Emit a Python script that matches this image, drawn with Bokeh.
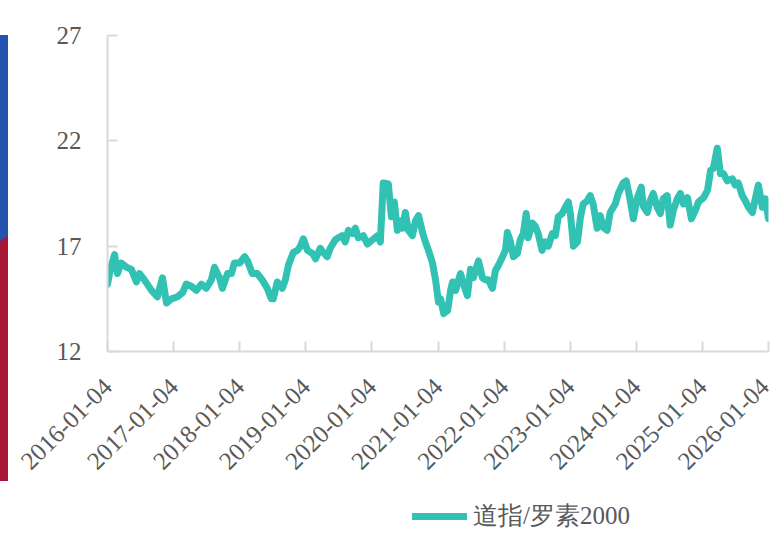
import pandas as pd
from bokeh.plotting import figure
from bokeh.layouts import column
from bokeh.models import (FixedTicker, Legend, LegendItem,
                          DatetimeTickFormatter, Range1d)
from bokeh.embed import file_html
from bokeh.resources import INLINE

series_name = "道指/罗素2000"

dates = [
    "2016-01-04", "2016-01-20", "2016-02-12", "2016-02-28", "2016-03-20", "2016-04-18",
    "2016-05-15", "2016-06-12", "2016-06-28", "2016-07-26", "2016-09-03", "2016-10-06",
    "2016-11-03", "2016-11-25", "2016-12-23", "2017-01-25", "2017-02-22", "2017-03-14",
    "2017-04-11", "2017-05-09", "2017-06-06", "2017-07-03", "2017-07-31", "2017-08-17",
    "2017-09-14", "2017-09-30", "2017-10-28", "2017-11-19", "2017-12-05", "2018-01-03",
    "2018-01-31", "2018-02-16", "2018-03-14", "2018-04-11", "2018-05-08", "2018-06-05",
    "2018-06-27", "2018-07-08", "2018-07-30", "2018-08-27", "2018-09-13", "2018-09-30",
    "2018-10-27", "2018-11-19", "2018-12-05", "2018-12-21", "2019-01-13", "2019-02-10",
    "2019-02-27", "2019-03-25", "2019-04-11", "2019-05-02", "2019-05-19", "2019-06-16",
    "2019-07-02", "2019-07-24", "2019-08-10", "2019-08-27", "2019-09-18", "2019-10-05",
    "2019-10-21", "2019-11-18", "2019-12-10", "2020-01-07", "2020-02-04", "2020-02-20",
    "2020-03-07", "2020-04-04", "2020-04-21", "2020-05-07", "2020-05-24", "2020-06-10",
    "2020-06-21", "2020-07-07", "2020-07-24", "2020-08-15", "2020-09-01", "2020-09-18",
    "2020-10-10", "2020-10-26", "2020-11-12", "2020-12-04", "2020-12-21", "2021-01-06",
    "2021-01-18", "2021-02-04", "2021-02-26", "2021-03-14", "2021-03-25", "2021-04-11",
    "2021-04-27", "2021-05-08", "2021-05-24", "2021-06-15", "2021-07-02", "2021-07-18",
    "2021-08-15", "2021-09-06", "2021-09-23", "2021-10-09", "2021-10-31", "2021-11-17",
    "2021-12-04", "2021-12-26", "2022-01-11", "2022-01-22", "2022-02-08", "2022-02-24",
    "2022-03-18", "2022-04-03", "2022-04-20", "2022-05-06", "2022-05-17", "2022-06-08",
    "2022-06-25", "2022-07-11", "2022-08-02", "2022-08-19", "2022-09-05", "2022-09-27",
    "2022-10-14", "2022-10-30", "2022-11-21", "2022-12-08", "2022-12-25", "2023-01-05",
    "2023-01-22", "2023-02-13", "2023-03-02", "2023-03-17", "2023-04-08", "2023-04-25",
    "2023-05-11", "2023-06-02", "2023-06-19", "2023-07-05", "2023-07-27", "2023-08-13",
    "2023-09-10", "2023-09-27", "2023-10-24", "2023-11-10", "2023-11-27", "2023-12-19",
    "2024-01-10", "2024-02-01", "2024-02-12", "2024-03-05", "2024-03-21", "2024-04-07",
    "2024-04-29", "2024-05-16", "2024-06-01", "2024-06-23", "2024-07-10", "2024-07-27",
    "2024-08-18", "2024-09-04", "2024-09-21", "2024-10-13", "2024-11-04", "2024-11-26",
    "2024-12-13", "2025-01-10", "2025-02-01", "2025-02-18", "2025-03-05", "2025-03-27",
    "2025-04-13", "2025-04-30", "2025-05-21", "2025-06-18", "2025-07-04", "2025-07-21",
    "2025-08-12", "2025-08-29", "2025-09-15", "2025-10-07", "2025-10-23", "2025-11-09",
    "2025-12-01", "2025-12-18", "2026-01-04",
]

ratio = [
    15.2, 15.9, 16.6, 15.7, 16.2, 16.0,
    15.9, 15.3, 15.7, 15.4, 14.9, 14.6,
    15.5, 14.3, 14.5, 14.6, 14.8, 15.2,
    15.1, 14.9, 15.2, 15.0, 15.4, 16.0,
    15.5, 15.0, 15.7, 15.7, 16.2, 16.2,
    16.5, 16.3, 15.7, 15.7, 15.4, 15.0,
    14.5, 14.5, 15.3, 15.0, 15.4, 16.1,
    16.7, 16.8, 17.0, 17.35, 16.8, 16.65,
    16.4, 16.9, 16.7, 16.5, 16.9, 17.3,
    17.4, 17.5, 17.2, 17.75, 17.6, 17.85,
    17.4, 17.5, 17.1, 17.3, 17.5, 17.2,
    20.0, 19.95, 18.4, 19.1, 17.75, 18.2,
    17.85, 18.6, 17.75, 17.5, 18.2, 18.45,
    17.65, 17.2, 16.8, 16.2, 15.4, 14.35,
    14.5, 13.8, 13.95, 14.9, 15.3, 14.9,
    15.4, 15.7, 15.2, 14.65, 15.9, 15.5,
    16.3, 15.5, 15.4, 15.4, 15.0, 15.85,
    16.1, 16.5, 16.8, 17.65, 17.2, 16.5,
    16.65, 17.3, 17.6, 18.55, 17.4, 18.1,
    17.95, 17.6, 16.8, 17.2, 17.0, 17.6,
    17.5, 18.4, 18.55, 18.85, 19.1, 18.55,
    17.0, 17.2, 18.4, 19.0, 19.15, 19.4,
    19.0, 17.85, 18.45, 17.9, 17.75, 18.6,
    19.0, 19.5, 20.0, 20.1, 19.4, 18.3,
    19.3, 19.8, 18.9, 18.6, 19.15, 19.5,
    18.85, 18.55, 19.25, 19.4, 18.0, 18.7,
    19.25, 19.5, 19.0, 19.3, 18.3, 18.7,
    19.1, 19.3, 19.65, 20.6, 20.7, 21.65,
    20.45, 20.45, 20.1, 20.2, 19.9, 20.0,
    19.4, 19.15, 18.85, 18.6, 19.25, 19.9,
    18.85, 19.25, 18.3,
]

x_tick_labels = [
    "2016-01-04", "2017-01-04", "2018-01-04", "2019-01-04", "2020-01-04", "2021-01-04",
    "2022-01-04", "2023-01-04", "2024-01-04", "2025-01-04", "2026-01-04",
]
y_ticks = [12, 17, 22, 27]

FONT = "Liberation Serif"
TEXT_COLOR = "#595959"
AXIS_COLOR = "#d9d9d9"
LINE_COLOR = "#32c2b3"
BAND_BLUE = "#2355b0"
BAND_RED = "#a91535"

xs = pd.to_datetime(dates)
tick_ms = [pd.Timestamp(t).value // 10**6 for t in x_tick_labels]

# ---- main chart -------------------------------------------------------------
p = figure(
    width=770, height=500, x_axis_type="datetime",
    output_backend="svg", toolbar_location=None,
    x_range=Range1d(tick_ms[0], tick_ms[-1]),
    y_range=Range1d(y_ticks[0], y_ticks[-1]),
    min_border_left=107, min_border_right=2, min_border_top=35, min_border_bottom=149,
)
p.outline_line_color = None
p.grid.visible = False
p.border_fill_color = None
p.background_fill_color = "white"
# thin two-colour band at the left page edge (CSS background of the plot element)
p.styles = {
    "background": (
        f"linear-gradient(to bottom right, {BAND_BLUE} 50%, {BAND_RED} 50%) 0 236px / 8px 5px no-repeat, "
        f"linear-gradient(to bottom, #ffffff 35px, {BAND_BLUE} 35px, {BAND_BLUE} 238px, "
        f"{BAND_RED} 238px, {BAND_RED} 481px, #ffffff 481px) 0 0 / 8px 100% no-repeat, #ffffff"
    ),
}

p.line(xs, ratio, line_width=7, line_color=LINE_COLOR, line_join="round", line_cap="round")

p.xaxis.ticker = FixedTicker(ticks=tick_ms)
fmt = "%Y-%m-%d"
p.xaxis.formatter = DatetimeTickFormatter(
    milliseconds=fmt, seconds=fmt, minsec=fmt, minutes=fmt, hourmin=fmt, hours=fmt,
    days=fmt, months=fmt, years=fmt)
p.xaxis.major_label_orientation = 0.785398
p.yaxis.ticker = FixedTicker(ticks=y_ticks)
for ax in (p.xaxis, p.yaxis):
    ax.axis_line_color = AXIS_COLOR
    ax.axis_line_width = 2
    ax.major_tick_line_color = AXIS_COLOR
    ax.major_tick_line_width = 2
    ax.major_tick_in = 10
    ax.major_tick_out = 0
    ax.minor_tick_line_color = None
    ax.major_label_text_font = FONT
    ax.major_label_text_color = TEXT_COLOR
p.yaxis.major_label_text_font_size = "25px"
p.xaxis.major_label_text_font_size = "25px"
p.yaxis.major_label_standoff = 26
p.xaxis.major_label_standoff = 31

# ---- legend strip below the chart ------------------------------------------
leg_fig = figure(
    width=770, height=33, output_backend="svg", toolbar_location=None,
    x_axis_location=None, y_axis_location=None,
    x_range=Range1d(0, 1), y_range=Range1d(0, 1),
    min_border_left=0, min_border_right=0, min_border_top=0, min_border_bottom=0,
)
leg_fig.outline_line_color = None
leg_fig.grid.visible = False
leg_fig.background_fill_color = None
leg_fig.border_fill_color = None
# legend key sample line (its data lie outside the strip, only the key is seen)
r_key = leg_fig.line([-2, -1], [-2, -1], line_width=7, line_color=LINE_COLOR,
                     line_cap="round")

legend = Legend(items=[LegendItem(label=series_name, renderers=[r_key])],
                location=(305, 1), orientation="horizontal",
                padding=0, margin=0, spacing=0,
                glyph_width=55, label_standoff=6,
                label_text_font=FONT, label_text_font_size="25px",
                label_text_color=TEXT_COLOR,
                border_line_color=None, background_fill_alpha=0)
leg_fig.add_layout(legend, "center")

layout = column(p, leg_fig, spacing=0)
open("out.html", "w").write(file_html(layout, INLINE))
